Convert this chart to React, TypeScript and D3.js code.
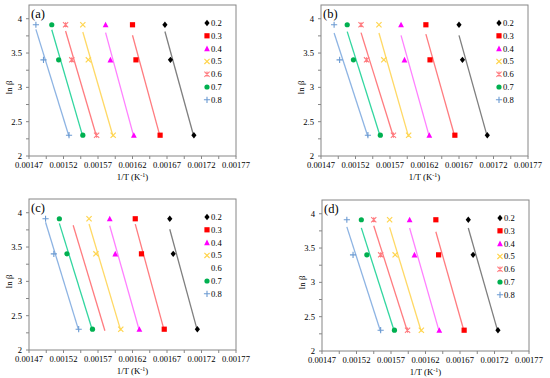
import React from 'react';
import * as d3 from 'd3';

// conversion degrees (legend)
const conversions = ['0.2', '0.3', '0.4', '0.5', '0.6', '0.7', '0.8'];
// ln(beta) for beta = 50, 30, 10 K/min
const lnBeta = [3.912, 3.401, 2.303];
const xTickLabels = [0.00147, 0.00152, 0.00157, 0.00162, 0.00167, 0.00172, 0.00177];
const yTickLabels = [2, 2.5, 3, 3.5, 4];

// 1/T per conversion, same order as lnBeta
const invTA = [
    [0.001667, 0.001675, 0.001709],
    [0.00162, 0.001625, 0.00166],
    [0.001581, 0.001588, 0.001622],
    [0.001548, 0.001556, 0.001592],
    [0.001523, 0.001532, 0.001568],
    [0.001503, 0.001513, 0.001548],
    [0.00148, 0.001491, 0.001528],
];
const invTB = [
    [0.00167, 0.001675, 0.001711],
    [0.001622, 0.001628, 0.001664],
    [0.001586, 0.001591, 0.001627],
    [0.001554, 0.001561, 0.001597],
    [0.001528, 0.001536, 0.001575],
    [0.001508, 0.001517, 0.001556],
    [0.001489, 0.001497, 0.001538],
];
const invTC = [
    [0.001674, 0.001679, 0.001714],
    [0.001624, 0.001633, 0.001666],
    [0.001587, 0.001595, 0.00163],
    [0.001557, 0.001567, 0.001603],
    [0.001534, 0.001543, 0.00158],
    [0.001514, 0.001525, 0.001562],
    [0.001494, 0.001506, 0.001542],
];
const invTD = [
    [0.001682, 0.001689, 0.001725],
    [0.001635, 0.001639, 0.001676],
    [0.001597, 0.001604, 0.00164],
    [0.001568, 0.001576, 0.001614],
    [0.001545, 0.001555, 0.001594],
    [0.001527, 0.001535, 0.001575],
    [0.001506, 0.001515, 0.001555],
];

const markerColors = ['#000000', '#FF0000', '#FF00FF', '#FFD54F', '#FF7C80', '#00B050', '#6C9BD2'];
const lineColors = ['#7F7F7F', '#FF7C80', '#FF80FF', '#FFD966', '#FF7C80', '#33D6A0', '#8EB4E3'];
const markerTypes = ['diamond', 'square', 'triangle', 'x', 'star', 'circle', 'plus'];

const font = "'Liberation Serif', 'Times New Roman', serif";
const frame = '#868686';

function Marker({ type, x, y, color }) {
    const s = 2.6;
    if (type === 'diamond')
        return <path d={`M${x},${y - s - 0.6}L${x + s},${y}L${x},${y + s + 0.6}L${x - s},${y}Z`} fill={color} />;
    if (type === 'square') return <rect x={x - s} y={y - s} width={s * 2} height={s * 2} fill={color} />;
    if (type === 'triangle')
        return <path d={`M${x},${y - s - 0.4}L${x + s + 0.3},${y + s}L${x - s - 0.3},${y + s}Z`} fill={color} />;
    if (type === 'circle') return <circle cx={x} cy={y} r={s} fill={color} />;
    if (type === 'x')
        return (
            <path d={`M${x - s},${y - s}L${x + s},${y + s}M${x + s},${y - s}L${x - s},${y + s}`} stroke={color} strokeWidth={1.2} />
        );
    if (type === 'star')
        return (
            <path
                d={`M${x - s},${y - s}L${x + s},${y + s}M${x + s},${y - s}L${x - s},${y + s}M${x},${y - s}L${x},${y + s}`}
                stroke={color}
                strokeWidth={1.1}
            />
        );
    // plus
    return <path d={`M${x - s - 0.5},${y}L${x + s + 0.5},${y}M${x},${y - s - 0.5}L${x},${y + s + 0.5}`} stroke={color} strokeWidth={1.1} />;
}

// least squares fit of ln beta on 1/T, drawn over the x range of the points
function fitLine(xs) {
    const mx = d3.mean(xs);
    const my = d3.mean(lnBeta);
    const sxy = d3.sum(xs, (v, i) => (v - mx) * (lnBeta[i] - my));
    const sxx = d3.sum(xs, (v) => (v - mx) * (v - mx));
    const slope = sxy / sxx;
    const [x0, x1] = d3.extent(xs);
    return [
        [x0, my + slope * (x0 - mx)],
        [x1, my + slope * (x1 - mx)],
    ];
}

function Panel({ label, left, top, data, noMarkers = [] }) {
    const width = 207;
    const height = 151;
    const x = d3.scaleLinear().domain([0.00147, 0.00177]).range([0, width]);
    const y = d3.scaleLinear().domain([2, 4.2]).range([height, 0]);
    const xMinor = d3.range(0, 13).map((i) => 0.00147 + i * 0.000025);
    const yMinor = d3.range(0, 9).map((i) => 2 + i * 0.25);
    const line = d3
        .line()
        .x((d) => x(d[0]))
        .y((d) => y(d[1]));

    return (
        <g transform={`translate(${left},${top})`} fontFamily={font}>
            <rect x={0} y={0} width={width} height={height} fill="none" stroke={frame} strokeWidth={1} />
            {yMinor.map((v) => (
                <line key={'yt' + v} x1={-3} x2={0} y1={y(v)} y2={y(v)} stroke={frame} />
            ))}
            {xMinor.map((v) => (
                <line key={'xt' + v} x1={x(v)} x2={x(v)} y1={height} y2={height + 3} stroke={frame} />
            ))}
            {yTickLabels.map((v) => (
                <text key={'yl' + v} x={-7} y={y(v) + 3} fontSize={8.6} textAnchor="end">
                    {v}
                </text>
            ))}
            {xTickLabels.map((v) => (
                <text key={'xl' + v} x={x(v)} y={height + 12} fontSize={8.6} textAnchor="middle">
                    {v.toFixed(5)}
                </text>
            ))}
            <text x={width / 2} y={height + 24} fontSize={8.8} textAnchor="middle">
                1/T (K
                <tspan dy={-3} fontSize={6}>
                    -1
                </tspan>
                <tspan dy={3}>)</tspan>
            </text>
            <text transform={`translate(-17,${y(3)}) rotate(-90)`} fontSize={8.8} textAnchor="middle">
                ln β
            </text>
            <text x={2} y={13} fontSize={12.5}>
                {label}
            </text>

            {data.map((xs, i) => (
                <path key={'ln' + i} d={line(fitLine(xs))} fill="none" stroke={lineColors[i]} strokeWidth={1.3} />
            ))}
            {data.map((xs, i) =>
                noMarkers.includes(conversions[i])
                    ? null
                    : xs.map((v, j) => (
                          <Marker key={'m' + i + '-' + j} type={markerTypes[i]} x={x(v)} y={y(lnBeta[j])} color={markerColors[i]} />
                      ))
            )}

            {conversions.map((c, i) => (
                <g key={'lg' + c} transform={`translate(${width - 29},${18 + i * 12.8})`}>
                    {noMarkers.includes(c) ? null : <Marker type={markerTypes[i]} x={0} y={0} color={markerColors[i]} />}
                    <text x={4} y={3} fontSize={8.6}>
                        {c}
                    </text>
                </g>
            ))}
        </g>
    );
}

export default function App() {
    return (
        <svg width={550} height={378} style={{ position: 'absolute', left: 0, top: 0, background: '#fff' }}>
            <Panel label="(a)" left={29} top={5} data={invTA} />
            <Panel label="(b)" left={321} top={5} data={invTB} />
            <Panel label="(c)" left={29} top={199} data={invTC} noMarkers={['0.6']} />
            <Panel label="(d)" left={322} top={200} data={invTD} />
        </svg>
    );
}
